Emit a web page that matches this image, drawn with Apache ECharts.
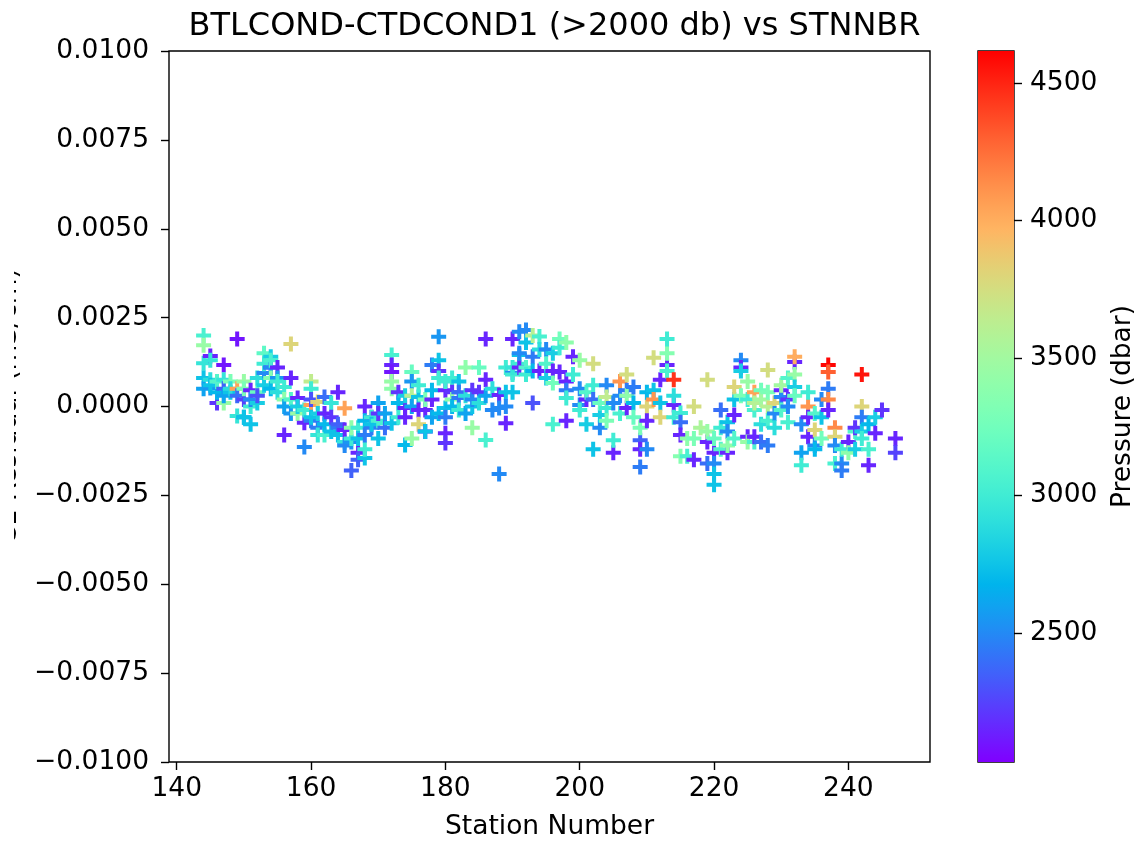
<!DOCTYPE html>
<html>
<head>
<meta charset="utf-8">
<title>BTLCOND-CTDCOND1 (>2000 db) vs STNNBR</title>
<script src="https://cdn.jsdelivr.net/npm/echarts@6/dist/echarts.min.js"></script>
<style>
  html, body { margin: 0; padding: 0; background: #fff; }
  #chart { width: 1139px; height: 844px; }
</style>
</head>
<body>
<div id="chart"></div>
<script>
// Station numbers; each row of the two tables below belongs to one station.
const STNNBR = [
  144,145,146,147,148,149,150,151,152,153,154,155,156,157,158,159,160,161,162,163,
  164,165,166,167,168,169,170,171,172,173,174,175,176,177,178,179,180,181,182,183,
  184,185,186,187,188,189,190,191,192,193,194,195,196,197,198,199,200,201,202,203,
  204,205,206,207,208,209,210,211,212,213,214,215,216,217,218,219,220,221,222,223,
  224,225,226,227,228,229,230,231,232,233,234,235,236,237,238,239,240,241,242,243,
  244,245,247
];

// Bottle minus CTD conductivity residual (mS/cm), bottles deeper than 2000 db.
const C1_RESIDUAL = [
  [0.0020,0.00172,0.00122,0.0008,0.0005],
  [0.00142,0.00075,0.00052,0.0006,0.0013],
  [0.0001,0.0004,0.0007],
  [0.00117,0.00075,0.0005,0.0001,0.0003],
  [0.0007,0.0004,0.0005],
  [0.0019,0.0005,-0.00027,0.0003],
  [0.0002,0.0007,-0.0003,-0.0003,0.0005],
  [0.00046,-0.0005,0.0,0.0002],
  [0.0004,0.0001,0.0003,0.0008],
  [0.0015,0.00094,0.0006,0.0012],
  [0.0014,0.0011,0.0011,0.0013,0.0008,0.0005],
  [0.0011,0.0008,0.0007,0.0004],
  [0.00055,-0.0008,0.0002,0.0],
  [0.00176,0.0008,0.0002,-0.0002],
  [0.00024,-0.0002,0.0],
  [-0.00046,-0.00114,-0.0001],
  [0.0007,0.0005,0.00004,-0.0004,-0.0003,0.0002],
  [0.00013,-0.0006,-0.0008,-0.0002],
  [0.00027,-0.0002,-0.0008,-0.0005],
  [0.0001,-0.0007,-0.0003],
  [0.0004,-0.0006,-0.0008,-0.0005],
  [-0.00005,-0.001,-0.00066,-0.0011],
  [-0.0018,-0.001,-0.0009,-0.0006],
  [-0.0013,-0.0015,-0.0006,-0.0009],
  [0.0,-0.0004,-0.00145,-0.0012,-0.0008],
  [-0.0006,-0.0003,-0.0003,-0.0005],
  [0.0001,-0.0009,-0.0004,-0.0002],
  [-0.00047,-0.0002,-0.0006],
  [0.00145,0.00117,0.00097,0.0007,0.0005,-0.00047],
  [0.0004,0.0001,-0.0003],
  [-0.00004,-0.0003,-0.00108,0.0003],
  [0.00097,0.0007,0.0003,-0.0009,0.0],
  [0.00027,-0.0001,-0.0005,0.0006],
  [-0.0001,-0.0007,-0.0007,0.0002],
  [0.0002,0.00046,0.00117,-0.0003],
  [0.0013,0.001,0.00196,0.0008,-0.0002],
  [0.00046,-0.00004,-0.00075,-0.00103,-0.0003,0.0007],
  [0.0008,0.0004,0.0002,0.0],
  [0.0007,0.00024,0.0004,-0.0001],
  [0.0011,0.0003,-0.0002],
  [0.00046,0.0,-0.0006,0.0002],
  [0.0011,0.0004,0.0001],
  [0.00075,0.0019,-0.00094,0.0003],
  [-0.0001,0.0005],
  [0.00032,-0.00004,-0.0019],
  [-0.00047,0.0004,0.0011,0.0],
  [0.0019,0.00095,0.0004,0.0009,0.0011],
  [0.00145,0.0012,0.0011,0.0021,0.0015],
  [0.00215,0.0018,0.0011,0.0009],
  [0.0020,0.0014,0.0001,0.0010],
  [0.00197,0.0010,0.0016],
  [0.0016,0.0012,0.0008],
  [0.0015,0.0010,0.00066,-0.0005],
  [0.0019,0.00165,0.00097],
  [0.0018,0.0007,0.00046,-0.0004,0.00024],
  [0.0014,0.0009],
  [0.0013,0.0005,0.00004,-0.0001],
  [-0.0005,0.0002,0.0004],
  [0.0012,0.0006,-0.0012,0.0002],
  [-0.0006,-0.00024,0.0001],
  [0.0006,-0.00004,0.00027,-0.0004],
  [-0.0013,-0.00095,0.0001],
  [0.0007,0.0003,-0.0002],
  [0.0009,-0.00004,0.00046,0.0003],
  [0.00055,0.0001,-0.0003],
  [-0.00095,-0.0012,-0.0017,-0.0006],
  [0.0,-0.0004,-0.0012,0.0004],
  [0.00137,0.00046,0.0002],
  [0.00075,0.0001,-0.0003],
  [0.00117,0.0015,0.0019,0.0010],
  [0.00075,0.00004,-0.0003,0.0003],
  [-0.00018,-0.00044,-0.0008,-0.0014],
  [-0.0014,-0.0009],
  [0.0,-0.0015,-0.0009],
  [-0.0006],
  [0.00075,-0.0010,-0.0007,-0.0016],
  [-0.0013,-0.0016,-0.0019,-0.0022,-0.0009],
  [-0.0001,-0.0006,-0.0012],
  [-0.0013,-0.00044,-0.0007,-0.0011],
  [0.0002,0.00055,-0.00024,-0.0009],
  [0.0013,0.0011,0.0010,0.0003],
  [0.0007,-0.00085,-0.0010,0.0002],
  [0.0004,-0.0001,-0.0010,-0.00085,0.0001],
  [0.00046,-0.0010,0.0002,-0.0005],
  [0.00103,-0.0011,0.0,-0.0004,0.0004],
  [0.0001,-0.0002,-0.0006],
  [0.00046,0.00027,0.0006,-0.0001],
  [-0.00044,0.0002,0.0,0.0008],
  [0.00125,0.0014,0.0009,0.00055,0.0003],
  [-0.0013,-0.00165,-0.0005],
  [0.0,-0.0003,-0.00085,0.0004],
  [-0.0011,-0.00066,-0.0012,-0.0002],
  [-0.0003,0.0002,-0.0009],
  [0.00117,0.00097,0.0005,0.0002,-0.0001],
  [-0.0006,-0.00085,-0.0011,-0.0016],
  [-0.0016,-0.0018,-0.0012],
  [-0.0010,-0.0013],
  [-0.0012,-0.0007,-0.0006],
  [0.0009,0.0,-0.0003,-0.0007,-0.0009],
  [-0.0012,-0.00165,-0.0005],
  [-0.00075,-0.0003],
  [-0.0001],
  [-0.0009,-0.0013]
];

// CTD pressure (dbar) of each bottle, same layout as C1_RESIDUAL.
const CTDPRS = [
  [3050,3450,2950,2750,2600],
  [2150,2900,2550,2750,2950],
  [2200,2700,3100],
  [2100,2950,2350,3450,2600],
  [3300,2750,2900],
  [2100,4050,2950,2400],
  [2250,3450,2600,2750,3300],
  [2150,2750,3000,2500],
  [3200,2800,2300,2900],
  [3150,2500,2800,3000],
  [2800,2200,2500,3050,3350,2700],
  [2150,2550,3000,2900],
  [3000,2150,3400,2600],
  [3800,2150,3100,2550],
  [2150,3450,2800],
  [2150,2500,3000],
  [3650,3000,4050,2450,2750,2300],
  [3800,2450,2950,2800],
  [2400,2150,3050,2700],
  [2950,2750,2200],
  [2150,2450,2750,2350],
  [4050,2950,2150,2500],
  [2350,2550,3000,3400],
  [2150,2350,3000,2750],
  [2150,2700,2750,3000,2450],
  [2450,2150,3000,2750],
  [2600,2750,3050,2200],
  [3050,2600,2400],
  [3050,2150,2100,3450,3400,2750],
  [2200,2700,3000],
  [2150,2150,2700,2800],
  [3200,2550,3600,3450,2600],
  [2750,2150,3800,3000],
  [2150,2150,2750,3300],
  [2150,2700,2450,2600],
  [2750,2200,2550,3000,2700],
  [2150,2750,2150,2200,2450,3000],
  [3000,2200,3400,2700],
  [2750,2450,2400,3000],
  [3400,2900,2600],
  [2200,2750,3450,2500],
  [3200,2200,2900],
  [2150,2150,3050,2600],
  [2500,2900],
  [2150,2500,2500],
  [2150,2750,3000,2500],
  [2150,2500,2750,3000,2950],
  [2750,3000,2150,2500,2500],
  [2500,2750,3100,3000],
  [3600,2450,2300,2700],
  [3050,2150,2900],
  [2500,3100,2800],
  [2800,2150,3250,3050],
  [3250,3000,2150],
  [3400,2150,2450,2150,3000],
  [2150,3000],
  [3450,2500,2500,3000],
  [2800,2150,3100],
  [3750,3000,2750,2400],
  [2500,2800,3200],
  [2500,3000,3650,3300],
  [2150,3000,2500],
  [4100,2500,3050],
  [3750,2150,2450,3400],
  [2450,2700,3200],
  [2350,2150,2450,3300],
  [3800,2150,2500,2700],
  [3750,2750,4100],
  [2150,2750,3800],
  [2150,3350,3000,3050],
  [4450,2150,3000,2900],
  [3000,2400,2150,3350],
  [3050,3400],
  [3750,2150,3300],
  [3550],
  [3750,2150,3450,2400],
  [2150,2500,2750,2750,3200],
  [2400,3000,3100],
  [2150,2750,2500,3400],
  [2750,3800,2150,3100],
  [2500,2150,2800,3300],
  [3450,2150,3450,3000],
  [4050,3050,3050,2150,3600],
  [3250,2400,3500,2900],
  [3750,2450,3600,3050,3300],
  [3800,2500,2900],
  [2150,2500,3500,3100],
  [3050,2200,2500,3100],
  [2150,4000,3450,2800,3200],
  [2600,3000,2500],
  [4100,2150,2150,3000],
  [2500,3800,2700,3100],
  [2750,2500,3250],
  [4600,4300,2450,4150,2150],
  [4150,3800,2500,3050],
  [2500,2450,3000],
  [2150,3400],
  [2800,3100,2200],
  [4550,3800,2450,2800,3000],
  [3050,2150,2700],
  [2150,2800],
  [2200],
  [2150,2250]
];

// Axis settings
const X_RANGE = [138.85, 252.15];
const X_TICKS = [140, 160, 180, 200, 220, 240];
const Y_RANGE = [-0.01, 0.01];
const Y_STEP = 0.0025;
const PRES_RANGE = [2031, 4616];
const PRES_TICKS = [2500, 3000, 3500, 4000, 4500];

const FONT = 'DejaVu Sans';
const FS = 26.5;

// matplotlib-style "rainbow" colormap
function rainbow(t) {
  const clip = v => Math.max(0, Math.min(1, v));
  const r = clip(Math.abs(2 * t - 0.5));
  const g = clip(Math.sin(Math.PI * t));
  const b = clip(Math.cos(Math.PI * t / 2));
  const h = v => Math.round(v * 255).toString(16).padStart(2, '0');
  return '#' + h(r) + h(g) + h(b);
}
const N_STOPS = 32;
const CMAP = [];
for (let i = 0; i <= N_STOPS; i++) CMAP.push(rainbow(i / N_STOPS));

// flatten station rows into [station, residual, pressure]
const points = [];
STNNBR.forEach((stn, i) => {
  C1_RESIDUAL[i].forEach((r, j) => points.push([stn, r, CTDPRS[i][j]]));
});

const PLUS = 'path://M5.5,0H9.5V5.5H15V9.5H9.5V15H5.5V9.5H0V5.5H5.5Z';

const fmtY = v => {
  const s = Math.abs(v) < 1e-12 ? '0.0000' : v.toFixed(4);
  return s.replace('-', '\u2212');
};

const tickStyle = { show: true, length: 8, lineStyle: { color: '#000', width: 1.4 } };
const labelStyle = { fontFamily: FONT, fontSize: FS, color: '#000' };

const chart = echarts.init(document.getElementById('chart'), null, { renderer: 'canvas' });

chart.setOption({
  animation: false,
  backgroundColor: '#fff',
  textStyle: { fontFamily: FONT },
  title: {
    text: 'BTLCOND-CTDCOND1 (>2000 db) vs STNNBR',
    left: 549.5,
    textAlign: 'center',
    top: 6,
    textStyle: { fontFamily: FONT, fontSize: 32, fontWeight: 'normal', color: '#000' }
  },
  grid: [
    { left: 169, top: 51, width: 761, height: 711, show: true, outerBoundsMode: 'none',
      borderColor: '#000', borderWidth: 1.4, backgroundColor: 'transparent', containLabel: false },
    { left: 978, top: 51, width: 36, height: 711, show: true, outerBoundsMode: 'none',
      borderColor: '#000', borderWidth: 1.4, backgroundColor: 'transparent', containLabel: false }
  ],
  xAxis: [
    {
      gridIndex: 0, type: 'value', min: X_RANGE[0], max: X_RANGE[1],
      name: 'Station Number', nameLocation: 'middle', nameGap: 52,
      nameTextStyle: labelStyle,
      axisLine: { show: false, onZero: false },
      axisTick: Object.assign({ customValues: X_TICKS }, tickStyle),
      axisLabel: Object.assign({ margin: 14, customValues: X_TICKS }, labelStyle),
      splitLine: { show: false }
    },
    {
      gridIndex: 1, type: 'value', min: 0, max: 1, show: false,
      axisLine: { onZero: false }
    }
  ],
  yAxis: [
    {
      gridIndex: 0, type: 'value', min: Y_RANGE[0], max: Y_RANGE[1], interval: Y_STEP,
      name: 'C1 Residual (mS/cm)', nameLocation: 'middle', nameGap: 146,
      nameTextStyle: labelStyle,
      axisLine: { show: false, onZero: false },
      axisTick: tickStyle,
      axisLabel: Object.assign({ margin: 20, formatter: fmtY }, labelStyle),
      splitLine: { show: false }
    },
    {
      gridIndex: 1, type: 'value', position: 'right', min: PRES_RANGE[0], max: PRES_RANGE[1],
      name: 'Pressure (dbar)', nameLocation: 'middle', nameGap: 96,
      nameTextStyle: labelStyle,
      axisLine: { show: false, onZero: false },
      axisTick: Object.assign({ customValues: PRES_TICKS }, tickStyle),
      axisLabel: Object.assign({ margin: 16, customValues: PRES_TICKS, formatter: v => String(v) }, labelStyle),
      splitLine: { show: false }
    }
  ],
  visualMap: {
    show: false,
    type: 'continuous',
    seriesIndex: 0,
    dimension: 2,
    min: PRES_RANGE[0],
    max: PRES_RANGE[1],
    inRange: { color: CMAP }
  },
  graphic: [
    // left margin strip over the clipped y-axis label
    { type: 'rect', left: 0, top: 150, z: 100, silent: true,
      shape: { width: 14, height: 520 }, style: { fill: '#fff' } }
  ],
  series: [
    {
      type: 'scatter',
      xAxisIndex: 0, yAxisIndex: 0,
      symbol: PLUS,
      symbolSize: 15,
      data: points,
      itemStyle: { opacity: 1 }
    },
    {
      // colorbar
      type: 'custom',
      xAxisIndex: 1, yAxisIndex: 1,
      data: [[PRES_RANGE[0], PRES_RANGE[1]]],
      renderItem: function (params, api) {
        const p0 = api.coord([0, api.value(1)]);
        const p1 = api.coord([1, api.value(0)]);
        const stops = CMAP.map((c, i) => ({ offset: 1 - i / N_STOPS, color: c })).reverse();
        return {
          type: 'rect',
          shape: { x: p0[0], y: p0[1], width: p1[0] - p0[0], height: p1[1] - p0[1] },
          style: { fill: new echarts.graphic.LinearGradient(0, 0, 0, 1, stops) }
        };
      }
    }
  ]
});
</script>
</body>
</html>
